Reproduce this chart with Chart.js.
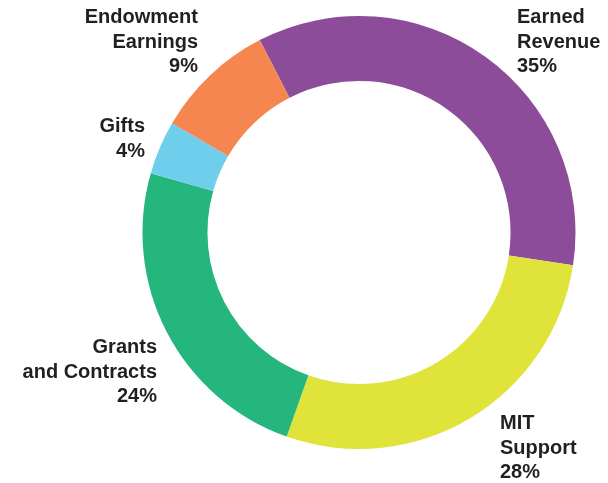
<!DOCTYPE html>
<html>
<head>
<meta charset="utf-8">
<script src="https://cdn.jsdelivr.net/npm/chart.js@4"></script>
<style>
  html, body { margin: 0; padding: 0; background: #fff; }
  #wrap { width: 608px; height: 483px; position: relative; }
</style>
</head>
<body>
<div id="wrap"><canvas id="revenueChart"></canvas></div>
<script>
// revenue sources, clockwise from the top
const sources = [['Earned', 'Revenue'], ['MIT', 'Support'], ['Grants', 'and Contracts'], ['Gifts'], ['Endowment', 'Earnings']];
const shares = [35, 28, 24, 4, 9];
const colors = ['#8c4c9a', '#e0e33a', '#24b67c', '#6fceec', '#f58650'];

// where each label block starts (first baseline) and which side it hangs from
const labelSpots = [
    { x: 517, y: 23, align: 'left' },
    { x: 500, y: 429, align: 'left' },
    { x: 157, y: 353, align: 'right' },
    { x: 145, y: 132, align: 'right' },
    { x: 198, y: 23, align: 'right' }
];

const sliceLabels = {
    id: 'sliceLabels',
    afterDraw(chart) {
        const ctx = chart.ctx;
        const values = chart.data.datasets[0].data;
        ctx.save();
        ctx.font = 'bold 20px "Liberation Sans", Arial, sans-serif';
        ctx.fillStyle = '#231f20';
        ctx.textBaseline = 'alphabetic';
        sources.forEach((lines, i) => {
            const spot = labelSpots[i];
            ctx.textAlign = spot.align;
            const all = lines.concat([values[i] + '%']);
            all.forEach((txt, j) => {
                ctx.fillText(txt, spot.x, spot.y + j * 24.6);
            });
        });
        ctx.restore();
    }
};

new Chart(document.getElementById('revenueChart'), {
    type: 'doughnut',
    data: {
        labels: sources.map(s => s.join(' ')),
        datasets: [{
            data: shares,
            backgroundColor: colors,
            borderWidth: 0
        }]
    },
    options: {
        responsive: true,
        maintainAspectRatio: false,
        animation: false,
        rotation: -27.3,
        cutout: '70%',
        layout: {
            padding: { left: 142.5, right: 32.5, top: 16, bottom: 34 }
        },
        plugins: {
            legend: { display: false },
            tooltip: { enabled: false }
        }
    },
    plugins: [sliceLabels]
});
</script>
</body>
</html>
